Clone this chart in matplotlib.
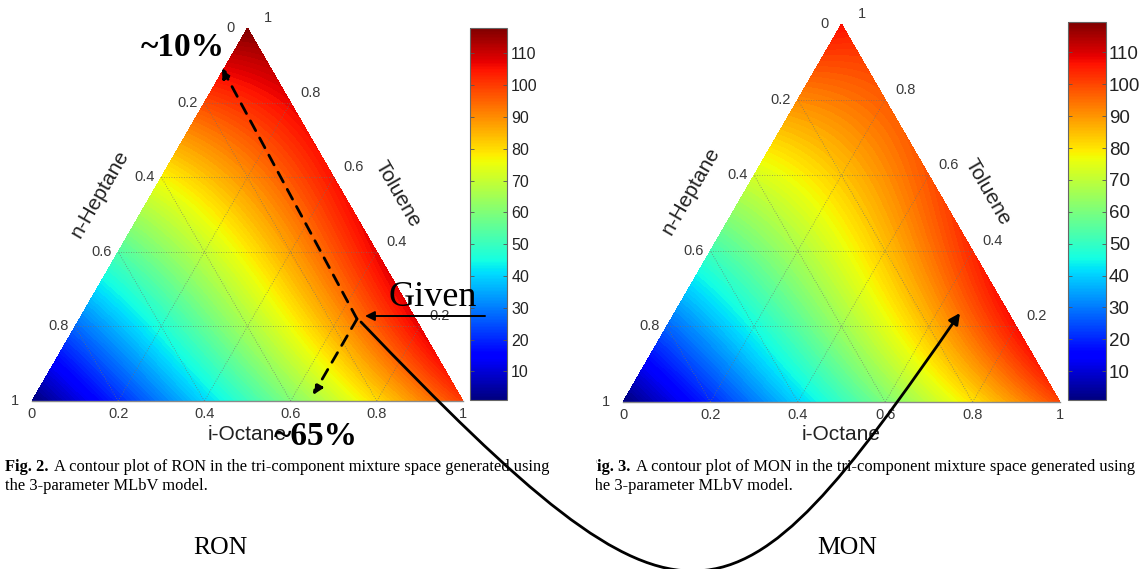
import numpy as np
import matplotlib
matplotlib.use("Agg")
import matplotlib.pyplot as plt
import matplotlib.tri as mtri
from matplotlib.path import Path
from matplotlib.patches import FancyArrowPatch
from matplotlib.transforms import Bbox, TransformedBbox
from matplotlib.cm import ScalarMappable
from matplotlib.colors import Normalize

# ---------------- data ----------------
components = ["n-Heptane", "i-Octane", "Toluene"]
pairs = [(0, 1), (0, 2), (1, 2)]          # (H,O), (H,T), (O,T)
ron_pure = [0.0, 100.0, 118.0]
ron_b = [0.0, 25.0, -12.0]
ron_c = [0.0, 0.0, 57.0]
mon_pure = [0.0, 100.0, 107.0]
mon_b = [0.0, 37.0, -10.0]
mon_c = [0.0, 0.0, 72.0]
ron_clim = [1.0, 118.0]
mon_clim = [1.0, 119.5]
tick_vals = [0, 0.2, 0.4, 0.6, 0.8, 1]
tick_text = ["0", "0.2", "0.4", "0.6", "0.8", "1"]
cbar_ticks = [10, 20, 30, 40, 50, 60, 70, 80, 90, 100, 110]

W, H = 1145, 569
fig = plt.figure(figsize=(W / 100, H / 100), dpi=100)
fig.patch.set_facecolor("white")


def px_axes(x0, y0, x1, y1, **kw):
    return fig.add_axes([x0 / W, 1 - y1 / H, (x1 - x0) / W, (y1 - y0) / H], **kw)


def mlbv(pure, b, c, X):
    val = sum(p * x for p, x in zip(pure, X))
    for (i, j), bij, cij in zip(pairs, b, c):
        val = val + X[i] * X[j] * (bij + cij * (X[i] - X[j]))
    return val


n = 90
oo, tt = [], []
for i in range(n + 1):
    for j in range(n + 1 - i):
        oo.append(i / n)
        tt.append(j / n)
oo = np.array(oo)
tt = np.array(tt)
hh = np.clip(1 - oo - tt, 0, 1)
gx = oo + tt / 2
gy = tt
triang = mtri.Triangulation(gx, gy)

SANS = "Liberation Sans"
SERIF = "Liberation Serif"
TICKC = "#3a3a3a"


def draw_ternary(box, pure, b, c, clim, cbox, cb_fs, cb_pad, lab_off):
    ax = px_axes(*box)
    ax.set_xlim(0, 1)
    ax.set_ylim(0, 1)
    ax.axis("off")
    z = mlbv(pure, b, c, [hh, oo, tt])
    levels = np.linspace(clim[0], clim[1], 110)
    ax.tricontourf(triang, np.clip(z, clim[0], clim[1]), levels=levels,
                   cmap="jet", vmin=clim[0], vmax=clim[1], antialiased=False)
    # grid lines
    for k in [0.2, 0.4, 0.6, 0.8]:
        kw = dict(color="#6f6f6f", lw=0.6, ls=(0, (1, 2)), alpha=0.8)
        ax.plot([k / 2, 1 - k / 2], [k, k], **kw)
        ax.plot([k, k + (1 - k) / 2], [0, 1 - k], **kw)
        ax.plot([1 - k, (1 - k) / 2], [0, 1 - k], **kw)
    ax.plot([0, 1], [0, 0], color="#8a8a8a", lw=1.0, clip_on=False)
    # tick labels
    for v, s in zip(tick_vals, tick_text):
        ax.annotate(s, xy=((1 - v) / 2, 1 - v), xytext=(-17, 0), textcoords="offset pixels",
                    ha="center", va="center", fontsize=10.5, family=SANS, color=TICKC,
                    annotation_clip=False)
        ax.annotate(s, xy=(v, 0), xytext=(0, -13), textcoords="offset pixels",
                    ha="center", va="center", fontsize=10.5, family=SANS, color=TICKC,
                    annotation_clip=False)
        if v > 0:
            ax.annotate(s, xy=(1 - v / 2, v), xytext=(20, 10), textcoords="offset pixels",
                        ha="center", va="center", fontsize=10.5, family=SANS, color=TICKC,
                        annotation_clip=False)
    ax.annotate(components[0], xy=(0.25, 0.5), xytext=lab_off[0], textcoords="offset pixels",
                ha="center", va="center", rotation=60, fontsize=15, family=SANS,
                color="#222222", annotation_clip=False)
    ax.annotate(components[2], xy=(0.75, 0.5), xytext=lab_off[1], textcoords="offset pixels",
                ha="center", va="center", rotation=-60, fontsize=15, family=SANS,
                color="#222222", annotation_clip=False)
    ax.annotate(components[1], xy=(0.5, 0), xytext=(0, -33), textcoords="offset pixels",
                ha="center", va="center", fontsize=15, family=SANS,
                color="#222222", annotation_clip=False)
    # colorbar
    cax = px_axes(*cbox)
    sm = ScalarMappable(norm=Normalize(clim[0], clim[1]), cmap="jet")
    cb = fig.colorbar(sm, cax=cax, ticks=cbar_ticks)
    cb.outline.set_edgecolor("#666666")
    cb.outline.set_linewidth(0.8)
    cax.tick_params(axis="y", direction="in", length=3, width=0.6, left=True, right=True,
                    labelsize=cb_fs, pad=cb_pad, colors="#555555", labelcolor="#222222")
    for lab in cax.get_yticklabels():
        lab.set_family(SANS)
    return ax


axL = draw_ternary((32, 28, 463, 401), ron_pure, ron_b, ron_c, ron_clim,
                   (470, 28, 507, 400), 11.5, 3, [(-40, 21), (42, 20)])
axR = draw_ternary((623, 24, 1060, 402), mon_pure, mon_b, mon_c, mon_clim,
                   (1068, 22, 1106, 400), 13.5, 2, [(-41, 22), (37, 21)])

# ---------------- overlay (annotations, captions) ----------------
ov = fig.add_axes([0, 0, 1, 1], zorder=10)
ov.set_xlim(0, W)
ov.set_ylim(H, 0)
ov.axis("off")
ov.patch.set_alpha(0)

CAP_FS = 11.9


def caption(x, y, bold, rest, clipx=None):
    t1 = ov.text(x, y, bold, fontsize=CAP_FS, family=SERIF, weight="bold", va="center", ha="left")
    t2 = ov.annotate(rest, xy=(1, 0.5), xycoords=t1, xytext=(4, 0), textcoords="offset points",
                     fontsize=CAP_FS, family=SERIF, va="center", ha="left")
    out = [t1, t2]
    if clipx is not None:
        bb = TransformedBbox(Bbox([[clipx, 0], [W, H]]), ov.transData)
        for t in out:
            t.set_clip_box(bb)
            t.set_clip_on(True)
    return out


caption(5, 467, "Fig. 2.", "A contour plot of RON in the tri-component mixture space generated using")
ov.text(5, 486, "the 3-parameter MLbV model.", fontsize=CAP_FS, family=SERIF, va="center", ha="left")
caption(587, 467, "Fig. 3.", "A contour plot of MON in the tri-component mixture space generated using",
        clipx=596)
t = ov.text(590, 486, "the 3-parameter MLbV model.", fontsize=CAP_FS, family=SERIF, va="center", ha="left")
t.set_clip_box(TransformedBbox(Bbox([[596, 0], [W, H]]), ov.transData))
t.set_clip_on(True)

ov.text(220, 548, "RON", fontsize=18.5, family=SERIF, ha="center", va="center")
ov.text(847, 548, "MON", fontsize=18.5, family=SERIF, ha="center", va="center")

# annotations
ov.text(183, 47, "~10%", fontsize=24, family=SERIF, weight="bold", ha="center", va="center")
ov.text(316, 436, "~65%", fontsize=24, family=SERIF, weight="bold", ha="center", va="center")
ov.text(433, 297, "Given", fontsize=26, family=SERIF, ha="center", va="center")

given = (357, 319)
ov.annotate("", xy=(365, 316), xytext=(485, 316),
            arrowprops=dict(arrowstyle="-|>", lw=1.4, color="black", mutation_scale=14,
                            shrinkA=0, shrinkB=0))
ov.annotate("", xy=(222, 68), xytext=given,
            arrowprops=dict(arrowstyle="-|>", lw=2, ls=(0, (4, 3)), color="black",
                            mutation_scale=14, shrinkA=0, shrinkB=0))
ov.annotate("", xy=(313, 395), xytext=given,
            arrowprops=dict(arrowstyle="-|>", lw=2, ls=(0, (4, 3)), color="black",
                            mutation_scale=14, shrinkA=0, shrinkB=0))

curve = Path([(361, 322), (690, 665), (730, 645), (960, 313)],
             [Path.MOVETO, Path.CURVE4, Path.CURVE4, Path.CURVE4])
arr = FancyArrowPatch(path=curve, arrowstyle="-|>", mutation_scale=16, lw=2,
                      color="black", transform=ov.transData)
ov.add_patch(arr)

fig.savefig("out.png", dpi=100, facecolor="white")
